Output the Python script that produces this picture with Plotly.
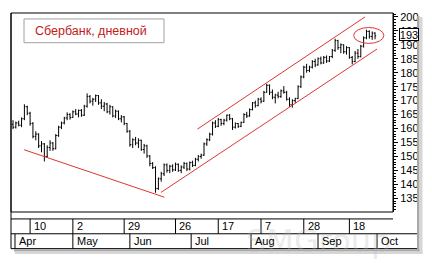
import plotly.graph_objects as go

# ---------------- data ----------------
opens = [161.5,160.5,162.0,161.2,163.5,167.8,165.5,161.8,157.2,158.0,153.8,154.5,150.0,153.2,154.8,152.8,157.5,160.5,162.0,163.8,
         165.0,164.0,166.0,165.2,166.5,164.8,168.0,171.5,169.8,170.5,171.8,169.2,168.0,168.8,166.0,167.8,164.5,166.2,163.5,164.2,
         161.8,159.0,154.2,156.0,154.8,155.8,152.5,153.8,150.2,147.5,146.0,138.5,142.0,143.8,147.0,145.0,146.5,145.2,147.2,145.0,
         146.2,147.5,145.5,147.8,146.8,149.0,150.0,150.5,154.5,156.0,158.0,162.0,160.8,163.2,161.8,163.0,164.8,163.5,160.5,161.8,
         160.8,162.2,165.0,164.5,166.8,169.2,168.2,170.5,169.8,173.0,175.5,173.0,171.2,172.0,171.5,173.5,173.0,170.5,168.5,170.0,
         170.8,175.0,178.5,182.0,180.8,182.0,184.0,182.8,185.0,183.5,185.5,184.2,185.8,188.0,191.5,189.0,190.0,187.5,189.0,185.5,
         184.0,187.0,185.8,189.5,192.5,194.8,193.0,194.2]
highs = [163.0,162.5,162.8,164.0,168.7,168.2,166.0,162.3,159.0,158.3,155.5,154.8,154.0,155.8,155.2,158.0,161.0,162.5,164.2,165.8,
         165.5,166.5,167.0,166.8,167.0,168.5,172.6,172.0,171.0,172.2,172.0,170.5,169.5,169.2,168.5,168.0,166.8,166.5,164.8,164.5,
         162.0,159.5,156.5,157.0,156.5,156.0,154.5,154.2,150.5,148.0,146.5,142.5,144.5,147.5,147.5,147.0,147.2,147.8,147.5,146.8,
         148.0,147.8,148.2,148.5,149.5,150.5,151.0,155.0,156.5,158.5,162.5,163.0,163.8,163.5,163.5,165.0,165.2,163.8,162.2,162.0,
         162.5,165.5,166.0,167.2,169.5,170.0,171.0,171.2,173.5,176.0,175.8,174.0,172.5,173.2,174.0,175.2,173.5,171.2,170.5,171.0,
         175.5,179.0,182.5,183.2,182.5,184.5,185.0,185.5,185.8,186.0,186.2,186.0,188.5,192.2,191.8,190.5,190.2,189.5,189.2,186.0,
         187.8,188.5,190.0,193.0,195.4,195.2,194.8,194.5]
lows = [159.8,160.0,160.8,160.5,163.0,164.8,161.0,156.5,155.8,153.0,151.5,148.2,149.5,152.0,152.0,152.5,157.0,159.8,161.5,163.0,
        163.2,163.8,164.8,164.0,164.2,164.5,167.5,169.0,168.2,169.5,168.5,167.0,166.2,165.5,165.0,164.0,163.8,163.0,162.2,161.2,
        158.5,153.5,153.0,154.0,153.0,152.0,151.0,149.5,146.5,145.5,137.0,138.0,141.0,143.0,144.2,144.0,144.5,144.8,144.5,144.0,
        145.5,144.8,145.0,146.2,146.5,148.2,149.2,150.2,153.8,155.5,157.5,160.2,160.5,161.0,161.2,162.5,163.0,159.5,160.0,160.2,
        160.5,162.0,163.8,164.2,166.5,167.5,168.0,169.0,169.5,172.8,172.0,170.5,169.0,170.8,171.0,172.5,170.0,167.8,167.5,169.2,
        170.5,174.5,178.0,180.0,180.2,181.5,182.0,182.5,183.0,183.2,183.5,183.8,185.2,187.5,188.2,187.0,186.8,186.5,185.0,183.0,
        183.8,185.0,185.5,189.0,192.0,192.2,191.8,192.0]
closes = [160.5,162.0,161.2,163.5,167.8,165.5,161.8,157.2,158.0,153.8,154.5,150.0,153.2,154.8,152.8,157.5,160.5,162.0,163.8,165.0,
          164.0,166.0,165.2,166.5,164.8,168.0,171.5,169.8,170.5,171.8,169.2,168.0,168.8,166.0,167.8,164.5,166.2,163.5,164.2,161.8,
          159.0,154.2,156.0,154.8,155.8,152.5,153.8,150.2,147.5,146.0,138.5,142.0,143.8,147.0,145.0,146.5,145.2,147.2,145.0,146.2,
          147.5,145.5,147.8,146.8,149.0,150.0,150.5,154.5,156.0,158.0,162.0,160.8,163.2,161.8,163.0,164.8,163.5,160.5,161.8,160.8,
          162.2,165.0,164.5,166.8,169.2,168.2,170.5,169.8,173.0,175.5,173.0,171.2,172.0,171.5,173.5,173.0,170.5,168.5,170.0,170.8,
          175.0,178.5,182.0,180.8,182.0,184.0,182.8,185.0,183.5,185.5,184.2,185.8,188.0,191.5,189.0,190.0,187.5,189.0,185.5,184.0,
          187.0,185.8,189.5,192.5,194.8,193.0,194.2,193.2]
day_index = list(range(len(closes)))

day_tick_index = [6, 21, 39, 57, 72, 87, 102, 118]
day_tick_labels = ["10", "2", "29", "26", "17", "7", "28", "18"]
month_index = [0.7, 21, 41, 62.5, 83.5, 107, 127.7]
month_labels = ["Apr", "May", "Jun", "Jul", "Aug", "Sep", "Oct"]

# trend lines in data units: (index0, price0, index1, price1)
trend_down = [3.9, 152.4, 53.1, 135.4]
channel_low = [51.9, 137.1, 127.7, 188.5]
channel_high = [64.7, 159.8, 123.5, 200.0]
ellipse = [119.5, 190.5, 130.1, 196.2]

title_text = "Сбербанк, дневной"
watermark_text = "SMGroup"

# ---------------- layout helpers ----------------
W, H = 432, 263
L, R, T, B = 11, 393, 11, 212
def px(xp):
    return (xp - L) / (R - L)
def py(yp):
    return (B - yp) / (B - T)

FONT = "Liberation Sans"
RED = "#e03535"

fig = go.Figure()
fig.add_trace(go.Ohlc(x=day_index, open=opens, high=highs, low=lows, close=closes,
                      increasing=dict(line=dict(color="black", width=1)),
                      decreasing=dict(line=dict(color="black", width=1)),
                      tickwidth=0.4, hoverinfo="skip", showlegend=False))

shapes = []
# plot frame
shapes.append(dict(type="rect", xref="paper", yref="paper", x0=0, x1=1, y0=0, y1=1,
                   line=dict(color="black", width=1)))
# panel left border down to bottom
shapes.append(dict(type="line", xref="paper", yref="paper", x0=0, x1=0, y0=1, y1=py(249),
                   line=dict(color="black", width=1)))
# date rows
for yy, x1 in [(219, px(393)), (234, px(417)), (249, px(417))]:
    shapes.append(dict(type="line", xref="paper", yref="paper", x0=0, x1=x1, y0=py(yy), y1=py(yy),
                       line=dict(color="black", width=1)))
for xi in day_tick_index:
    shapes.append(dict(type="line", xref="x", yref="paper", x0=xi, x1=xi, y0=py(219), y1=py(234),
                       line=dict(color="black", width=1)))
for xi in month_index:
    shapes.append(dict(type="line", xref="x", yref="paper", x0=xi, x1=xi, y0=py(234), y1=py(249),
                       line=dict(color="black", width=1)))
# shadow
shapes.append(dict(type="rect", xref="paper", yref="paper", x0=px(417), x1=px(419.5), y0=py(252), y1=py(14),
                   line=dict(width=0), fillcolor="#a8a8a8"))
shapes.append(dict(type="rect", xref="paper", yref="paper", x0=px(419.5), x1=px(422.5), y0=py(254), y1=py(15),
                   line=dict(width=0), fillcolor="#d6d6d6"))
shapes.append(dict(type="rect", xref="paper", yref="paper", x0=px(14), x1=px(419.5), y0=py(252), y1=py(249.5),
                   line=dict(width=0), fillcolor="#a8a8a8"))
shapes.append(dict(type="rect", xref="paper", yref="paper", x0=px(15), x1=px(422.5), y0=py(254.5), y1=py(252),
                   line=dict(width=0), fillcolor="#d6d6d6"))
# title box
shapes.append(dict(type="rect", xref="paper", yref="paper", x0=px(24), x1=px(164), y0=py(41), y1=py(17),
                   line=dict(color="#a0a0a0", width=1), fillcolor="white"))
# trend lines
for ln in (trend_down, channel_low, channel_high):
    shapes.append(dict(type="line", xref="x", yref="y", x0=ln[0], y0=ln[1], x1=ln[2], y1=ln[3],
                       line=dict(color=RED, width=1)))
shapes.append(dict(type="circle", xref="x", yref="y", x0=ellipse[0], y0=ellipse[1], x1=ellipse[2], y1=ellipse[3],
                   line=dict(color=RED, width=1)))

annotations = []
annotations.append(dict(text=watermark_text, xref="paper", yref="paper", x=px(318), y=py(241), xanchor="center",
                        yanchor="middle", showarrow=False,
                        font=dict(family="DejaVu Sans", size=32, color="rgba(185,185,185,0.3)")))
annotations.append(dict(text=title_text, xref="paper", yref="paper", x=px(33), y=py(29.5), xanchor="left",
                        yanchor="middle", showarrow=False, font=dict(family=FONT, size=12.5, color="#c41a1a")))
for xi, lab in zip(day_tick_index, day_tick_labels):
    annotations.append(dict(text=lab, xref="x", yref="paper", x=xi, y=py(226.5), xanchor="left", yanchor="middle",
                            xshift=2, showarrow=False, font=dict(family=FONT, size=11, color="black")))
for xi, lab in zip(month_index, month_labels):
    annotations.append(dict(text=lab, xref="x", yref="paper", x=xi, y=py(241.5), xanchor="left", yanchor="middle",
                            xshift=2, showarrow=False, font=dict(family=FONT, size=11, color="black")))
last = closes[-1]
annotations.append(dict(text=f"{round(last)}", xref="paper", yref="y", x=px(399), y=last, xanchor="left",
                        yanchor="middle", yshift=1, showarrow=False, bgcolor="white", bordercolor="black",
                        borderwidth=1, borderpad=0, width=18, height=11,
                        font=dict(family=FONT, size=11, color="black")))

fig.update_layout(
    width=W, height=H, margin=dict(l=L, r=W - R, t=T, b=H - B),
    paper_bgcolor="white", plot_bgcolor="white",
    shapes=shapes, annotations=annotations, showlegend=False,
    xaxis=dict(range=[-0.7, 133.3], showticklabels=False, ticks="", showgrid=False, zeroline=False,
               showline=False, rangeslider=dict(visible=False), fixedrange=True),
    yaxis=dict(range=[130.1, 201.4], side="right", dtick=5, tick0=0, ticks="outside", ticklen=4,
               tickcolor="black", tickwidth=1, showline=True, linecolor="black", linewidth=1,
               showgrid=False, zeroline=False, ticklabelstandoff=0,
               tickfont=dict(family=FONT, size=11, color="black"),
               minor=dict(dtick=1, ticks="outside", ticklen=2, tickcolor="black", showgrid=False),
               fixedrange=True),
)
fig.write_html("out.html")
